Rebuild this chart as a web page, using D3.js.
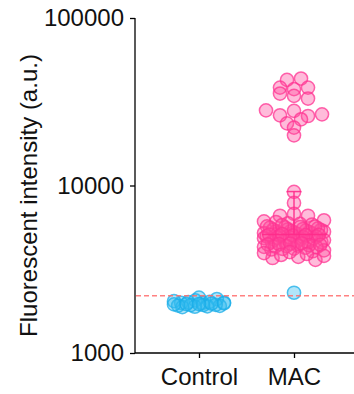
<!DOCTYPE html>
<html><head><meta charset="utf-8">
<script src="https://cdn.jsdelivr.net/npm/d3@7"></script>
<style>html,body{margin:0;padding:0;background:#fff;}svg{display:block;}</style>
</head><body><svg id="c" width="354" height="394"></svg>
<script>
// ---------- data ----------
const categories = ["Control", "MAC"];
const controlValues = [2140, 2100, 2060, 2040, 2020, 2010, 2000, 1990, 1990, 1980, 1970, 1960, 1960, 1950, 1940, 1935, 1930, 1920, 1910, 1900, 1890, 1880];
const macValues = [
  43500, 42700, 38400, 38400, 37600, 35400, 34300, 33050, 28100, 27900, 26600, 26250, 26000, 24850, 23500, 22170, 19920,
  9160, 7870, 6770, 6600, 6600,
  6200, 6100, 6050, 5950, 5900, 5850, 5800, 5700, 5650, 5600, 5550, 5500, 5450, 5400, 5350, 5300, 5250, 5200,
  5150, 5100, 5050, 5000, 4950, 4900, 4850, 4800, 4750, 4700, 4650, 4600, 4550, 4500, 4450, 4400, 4350, 4300,
  4250, 4200, 4150, 4100, 4050, 4000, 3950, 3900, 3850, 3800, 3750, 3690, 3600,
  5680, 5620, 5480, 5420, 5330, 5270, 5220, 5180, 5120, 5080, 5020, 4980, 4920, 4880, 4820, 4780, 4720, 4680,
  4620, 4570, 4520, 4470, 4420, 4380, 4320, 4270, 4180];
const macNegativeValues = [2290];
const macCenter = 5100;
const macErrorTop = 9200;
const threshold = 2200;
const yTicks = [1000, 10000, 100000];
const yLabel = "Fluorescent intensity (a.u.)";

// ---------- layout ----------
const svg = d3.select("#c");
const font = "'Liberation Sans', Arial, Helvetica, sans-serif";
const y = d3.scaleLog().domain([1000, 100000]).range([353, 18]);
const x = d3.scalePoint().domain(categories).range([199, 294]);
const xLeft = 135, xRight = 354;
const r = 6.6;

// y axis
const yAxis = svg.append("g").attr("transform", `translate(${xLeft},0)`)
  .call(d3.axisLeft(y).tickValues(yTicks).tickFormat(d3.format("d")).tickSize(5).tickPadding(6).tickSizeOuter(0));
yAxis.select(".domain").remove();
yAxis.append("line").attr("x1", 0).attr("x2", 0).attr("y1", y(100000)).attr("y2", y(1000))
  .attr("stroke", "#000").attr("stroke-width", 1.3);
yAxis.selectAll(".tick line").attr("stroke-width", 1.3);
yAxis.selectAll("text").attr("font-family", font).attr("font-size", 24).attr("fill", "#111");

// x axis
const xAxis = svg.append("g").attr("transform", `translate(0,${y(1000)})`)
  .call(d3.axisBottom(x).tickSize(5).tickPadding(10).tickSizeOuter(0));
xAxis.select(".domain").remove();
xAxis.append("line").attr("x1", xLeft).attr("x2", xRight).attr("y1", 0).attr("y2", 0)
  .attr("stroke", "#000").attr("stroke-width", 1.3);
xAxis.selectAll(".tick line").attr("stroke-width", 1.3);
xAxis.selectAll("text").attr("font-family", font).attr("font-size", 24).attr("fill", "#111");

// y label
svg.append("text")
  .attr("transform", `translate(37,${(y(100000) + y(1000)) / 2 + 10}) rotate(-90)`)
  .attr("text-anchor", "middle")
  .attr("font-family", font).attr("font-size", 24).attr("fill", "#111")
  .text(yLabel);

// swarm: bin by pixel y, spread points in each bin across the column
function gcd(a, b) { return b ? gcd(b, a % b) : a; }
function swarm(vals, cx, binH, spacing, maxHalf) {
  const pts = vals.map(v => ({ v, py: y(v) })).sort((a, b) => a.py - b.py);
  const bins = d3.groups(pts, p => Math.floor((p.py - 18) / binH));
  const out = [];
  bins.forEach(([, arr], bi) => {
    const n = arr.length;
    const sp = n > 1 ? Math.min(spacing, (2 * maxHalf) / (n - 1)) : 0;
    const k = [3, 5, 7, 2, 1].find(m => gcd(m, n) === 1 && m < n) || 1;
    const order = arr.slice().sort((a, b) => a.v - b.v);
    order.forEach((p, i) => {
      const slot = (i * k + bi) % n;
      out.push({ v: p.v, px: cx + (slot - (n - 1) / 2) * sp, py: p.py });
    });
  });
  return out;
}

const pinkFill = "#ff4d9f", pinkStroke = "#ff3392";
const blueFill = "#33bbf0", blueStroke = "#1aaee8";

function drawPoints(pts, fill, stroke) {
  svg.append("g").selectAll("circle").data(pts).join("circle")
    .attr("cx", d => d.px).attr("cy", d => d.py).attr("r", r)
    .attr("fill", fill).attr("fill-opacity", 0.38)
    .attr("stroke", stroke).attr("stroke-opacity", 0.75).attr("stroke-width", 1.5);
}

drawPoints(swarm(controlValues, x("Control"), 5, 12.3, 25), blueFill, blueStroke);
drawPoints(swarm(macValues, x("MAC"), 9, 14, 30), pinkFill, pinkStroke);
drawPoints(swarm(macNegativeValues, x("MAC"), 12, 12.3, 28), blueFill, blueStroke);

// center line + error bar for MAC
const mx = x("MAC");
const g = svg.append("g").attr("stroke", "#ff2a8a").attr("stroke-width", 1.5).attr("stroke-opacity", 0.9);
g.append("line").attr("x1", mx - 32).attr("x2", mx + 33).attr("y1", y(macCenter)).attr("y2", y(macCenter));
g.append("line").attr("x1", mx).attr("x2", mx).attr("y1", y(macCenter)).attr("y2", y(macErrorTop));
g.append("line").attr("x1", mx - 7.5).attr("x2", mx + 7.5).attr("y1", y(macErrorTop)).attr("y2", y(macErrorTop));

// threshold dashed line
svg.append("line").attr("x1", xLeft + 1).attr("x2", xRight).attr("y1", y(threshold)).attr("y2", y(threshold))
  .attr("stroke", "#ff6b6b").attr("stroke-opacity", 0.85).attr("stroke-width", 1.5).attr("stroke-dasharray", "5,3");
</script></body></html>
